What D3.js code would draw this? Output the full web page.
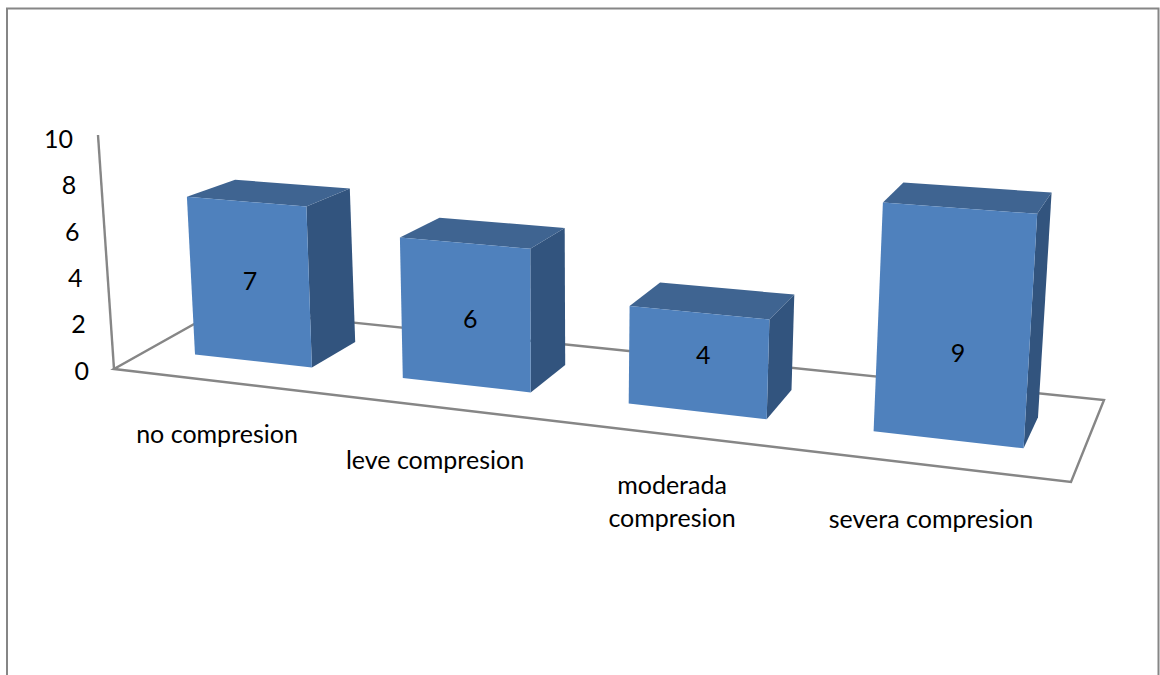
<!DOCTYPE html>
<html>
<head>
<meta charset="utf-8">
<script src="https://cdn.jsdelivr.net/npm/d3@7/dist/d3.min.js"></script>
<style>
html, body { margin: 0; padding: 0; background: #fff; overflow: hidden; }
svg { display: block; }
text { font-family: Lato, "Open Sans", sans-serif; fill: #000; }
</style>
</head>
<body>
<svg id="chart" width="1160" height="675"></svg>
<script>
// Chart data
const categories = [["no compresion"], ["leve compresion"], ["moderada", "compresion"], ["severa compresion"]];
const values = [7, 6, 4, 9];
const tickValues = [0, 2, 4, 6, 8, 10];

// Layout of the category labels and the value labels
const categoryLabelX = [217, 435, 672, 931];
const categoryLabelY = [434, 460, 485, 519];
const valueLabelLevel = [3.5, 2.8, 2.3, 3.4];
const valueLabelShift = [0, 0.02, 0.02, 0.02];

const svg = d3.select("#chart");
const GREY = "#868686";
const FRONT = "#4f81bd", TOP = "#3f6491", SIDE = "#32547e";

// Floor plane of the oblique view: u runs along the categories, d runs towards the back wall
const frontX = d3.scaleLinear([0, 1], [114, 1071]);
const frontY = d3.scaleLinear([0, 1], [369, 482]);
const backX = d3.scaleLinear([0, 1], [221, 1104]);
const backY = d3.scaleLinear([0, 1], [309, 400]);

// Category position (t) to floor position (u); the spacing widens towards the viewer
const floorU = d3.scaleLinear()
  .domain([0, 0.2, 0.8, 1.2, 1.8, 2.2, 2.8, 3.2, 3.8, 4])
  .range([0.01, 0.049, 0.1743, 0.2718, 0.409, 0.514, 0.662, 0.7767, 0.9375, 1]);

// Screen offset per value unit, varying with floor position
const riseX = (u, d) => -1.6 + 0.9 * d + 3 * u;
const riseY = (u, d) => -23.4 + 3.3 * d - 4 * u;

// Receding edge of a bar, varying with floor position and height
const depthX = d3.scaleLinear([0, 1], [50, 12]);
const depthY = (u, v) => -(24.5 + 7 * u) + 1.1 * v;

const BAR_PLANE = 0.33;

function project(u, d, v) {
  const fx = frontX(u), fy = frontY(u);
  const bx = backX(u), by = backY(u);
  return [
    fx + (bx - fx) * d + v * riseX(u, d),
    fy + (by - fy) * d + v * riseY(u, d)
  ];
}

function barPoint(t, v, back) {
  const u = floorU(t);
  const p = project(u, BAR_PLANE, v);
  return back ? [p[0] + depthX(u), p[1] + depthY(u, v)] : p;
}

const poly = pts => pts.map(p => p.map(n => n.toFixed(1)).join(",")).join(" ");

// Outer frame, open at the bottom edge of the page
svg.append("path")
  .attr("d", "M7,680V8.5H1158.5V680")
  .attr("fill", "none").attr("stroke", GREY).attr("stroke-width", 2);

// Floor outline and the value axis
svg.append("polygon")
  .attr("points", poly([project(0, 0, 0), project(1, 0, 0), project(1, 1, 0), project(0, 1, 0)]))
  .attr("fill", "none").attr("stroke", GREY).attr("stroke-width", 2.4);

svg.append("line")
  .attr("x1", project(0, 0, 0)[0]).attr("y1", project(0, 0, 0)[1])
  .attr("x2", project(0, 0, 10)[0]).attr("y2", project(0, 0, 10)[1])
  .attr("stroke", GREY).attr("stroke-width", 2.4);

// Value tick labels follow the slanted axis
const tickY = d3.scaleLinear([0, 10], [371, 139]);
svg.append("g").selectAll("text").data(tickValues).join("text")
  .attr("x", d => project(0, 0, d)[0] - 25)
  .attr("y", d => tickY(d))
  .attr("dy", "0.35em")
  .attr("text-anchor", "end")
  .attr("font-size", 25)
  .text(d => d);

// Bars: front, top and side faces
const bars = svg.append("g").selectAll("g").data(values).join("g");

bars.append("polygon").attr("fill", SIDE).attr("points", (v, i) => {
  const r = i + 0.8;
  return poly([barPoint(r, 0, false), barPoint(r, v, false), barPoint(r, v, true), barPoint(r, 0, true)]);
});
bars.append("polygon").attr("fill", TOP).attr("points", (v, i) => {
  const l = i + 0.2, r = i + 0.8;
  return poly([barPoint(l, v, false), barPoint(r, v, false), barPoint(r, v, true), barPoint(l, v, true)]);
});
bars.append("polygon").attr("fill", FRONT).attr("points", (v, i) => {
  const l = i + 0.2, r = i + 0.8;
  return poly([barPoint(l, 0, false), barPoint(r, 0, false), barPoint(r, v, false), barPoint(l, v, false)]);
});

// Value labels on the front faces
bars.append("text")
  .attr("text-anchor", "middle")
  .attr("dy", "0.35em")
  .attr("font-size", 25)
  .attr("x", (v, i) => barPoint(i + 0.5 + valueLabelShift[i], valueLabelLevel[i], false)[0])
  .attr("y", (v, i) => barPoint(i + 0.5 + valueLabelShift[i], valueLabelLevel[i], false)[1])
  .text(v => v);

// Category labels, wrapped where needed
const labels = svg.append("g").selectAll("text").data(categories).join("text")
  .attr("text-anchor", "middle")
  .attr("font-size", 25)
  .attr("transform", (c, i) => `translate(${categoryLabelX[i]},${categoryLabelY[i]})`);
labels.selectAll("tspan").data(c => c).join("tspan")
  .attr("x", 0)
  .attr("y", (line, j) => j * 33)
  .attr("dy", "0.35em")
  .text(line => line);
</script>
</body>
</html>
